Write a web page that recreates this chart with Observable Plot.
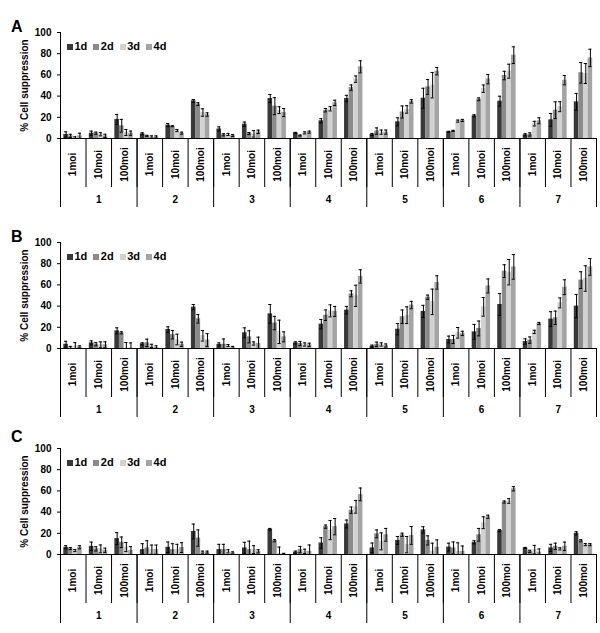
<!DOCTYPE html>
<html><head><meta charset="utf-8">
<script src="https://cdn.jsdelivr.net/npm/d3@7"></script>
<script src="https://cdn.jsdelivr.net/npm/@observablehq/plot@0.6"></script>
<style>
body{margin:0;background:#fff;font-family:"Liberation Sans",Arial,sans-serif;}
#fig{position:relative;width:600px;height:633px;overflow:hidden;background:#fff}
.panel{position:absolute;left:0;width:600px}
.letter{position:absolute;left:11px;font-size:16px;font-weight:bold;line-height:16px}
.legend{position:absolute;left:67px;top:41px;display:flex;font-size:11px;font-weight:bold;line-height:11px;align-items:center}
.legend .item{display:flex;align-items:center;margin-right:6px}
.legend i{display:inline-block;width:6px;height:6px;margin-right:1.5px}
</style>
</head><body><div id="fig"></div>
<script>
// ---- data ----
const groups = ["1","2","3","4","5","6","7"];
const mois = ["1moi","10moi","100moi"];
const days = ["1d","2d","3d","4d"];
const yTicks = [0,20,40,60,80,100];
const panelLetters = ["A","B","C"];
const dayColors = ["#383838","#8a8a8a","#d2d2d2","#a4a4a4"];

// Panel A: mean % suppression per slot (group x moi), one array per day
const a1d = [3.8,5,18, 4.4,12.6,35.5, 9,13.5,37.7, 5.3,16.7,37.7, 3.8,15.7,38, 6.3,21.4,35.2, 3.5,17.6,34.6];
const a2d = [2.5,5,12, 2.5,11.6,32.4, 3.5,4.7,30.5, 2.8,26.7,48, 7,25,48.7, 7.2,37,59.4, 3.8,26.7,62];
const a3d = [0.6,4,5.7, 1.5,7.5,24.5, 3.8,4.4,26.7, 5.3,28,56, 6,27.4,50.3, 16.4,47,63.5, 14,30,61.3];
const a4d = [2.5,2.5,5, 1.5,5,22.6, 2.8,6.3,24.5, 6,33.6,67.6, 6,35,63.5, 17,56,78.6, 16.7,55,76];
const aErr1d = [2.5,2,4.7, 1,1.5,1.3, 2,2,3.8, 0.5,2,3, 1,3.8,9.4, 0.5,1,4.7, 1,6,7.9];
const aErr2d = [1.5,1,6, 0.5,0.5,1.3, 1,1,8, 0.5,1.6,2.5, 3,5.7,7, 0.5,1.3,4, 1.5,7.9,9.7];
const aErr3d = [1,1.5,2.8, 1,1,3.5, 1,3,3.2, 1,2,3, 2,3.5,12, 1,3.5,6.6, 2.2,4.7,9.4];
const aErr4d = [2.5,1.5,2, 1,1,1.6, 1,1.6,3.8, 1,2.5,5.7, 2,1.6,3.5, 1,4.4,7.9, 2.8,4.4,8.2];

// Panel B
const b1d = [4,5.3,16.7, 4.4,18,39, 3.8,14.8,32.7, 5.3,23,36.2, 2.2,18.2,35, 8.5,15.7,41.5, 6.6,27.7,40];
const b2d = [0.5,4,14.8, 5.3,13,28, 4,11,24, 4.7,31.4,51.6, 4,30,48.4, 8.5,18.9,73, 7.9,29,64.5];
const b3d = [2.5,3.5,0.6, 2.5,8.5,12, 2.8,4.7,15.7, 3.8,35.5,49.7, 3.8,31.4,44, 14.8,39.3,72, 15.7,43,66];
const b4d = [1.5,3.5,0.3, 1,4,8, 1,4.7,11, 3.5,35,68, 2.8,41,62.3, 14.2,59,77, 23.6,57.8,77];
const bErr1d = [2.8,1.9,2.8, 1,2.5,2.5, 1.5,4.7,8.8, 1,4.4,3.5, 1,5.3,5.7, 3.2,7,10.4, 2.5,7,11];
const bErr2d = [1.5,1.5,1, 3.5,4,4, 5,5.7,6.3, 2,5,2.8, 2,6.3,2, 3.8,7,6, 3,6.3,7.9];
const bErr3d = [3,2.8,5, 1.5,5,5, 1,1.5,11, 1.5,5.7,10, 1.5,7.9,12, 5,8.8,12, 1.5,4.7,12];
const bErr4d = [1,2.8,5, 1.5,2,6, 1,6,4.7, 1.5,4.7,6.3, 1.5,3.5,6.3, 2,6.6,11.6, 1,7,7.9];

// Panel C
const c1d = [6.8,7.7,15, 4.6,6.8,21.7, 4.6,6.2,23.8, 2.2,10.8,28.8, 6.2,13.3,23.2, 7,11.5,22.6, 6.2,6.2,20];
const c2d = [5.6,5.3,11.5, 6.2,4.6,15.5, 4.6,4.6,13, 4.6,26.3,41.8, 19.5,18.6,13.3, 6.2,18.6,49.5, 3,7.7,13];
const c3d = [3.7,5.3,7, 4.6,4.6,2.2, 3,4.6,1, 3,23,45, 12.4,9.3,3, 3,30,50.5, 4.6,5.3,9.3];
const c4d = [6.8,4,3.7, 4.6,6.5,2.2, 1.5,3,0.6, 3,26.3,56.7, 18.6,18,6.8, 3,35.6,62, 2.2,7.7,9.3];
const cErr1d = [1.5,4,5.6, 5.6,5,7, 5,5.3,0.8, 1,5,3.7, 4.6,3.7,3, 3.7,1.5,1, 0.5,3.4,1.5];
const cErr2d = [1,2,5, 6.8,5.6,7.7, 5,8,1, 3,1.5,3, 3.7,1.5,4.3, 5.6,6,1, 1,3,1];
const cErr3d = [1,3.7,4.3, 4.3,5,1, 1.5,3.7,6, 2,9,6, 8,7.7,7.7, 8,5.6,2.2, 4,1,1];
const cErr4d = [1.5,2,3.7, 4.3,4.6,1, 1,1.5,0.5, 6,7.7,6, 6,8.4,7, 5,1.5,2, 3,4,1];

// ---- layout ----
const W = 600, H = 217, ML = 60, MR = 4, MT = 32, MB = 79;
const panelTops = [0, 210, 416];
const letterTops = [19, 19, 13];
const slots = groups.flatMap(g => mois.map(m => g + "|" + m));
const bw = (W - ML - MR) / slots.length;
const pad = 3.3, barW = 4.6;

function makePanel(means, errs) {
  const rows = days.flatMap((d, k) => slots.map((s, i) => ({slot: s, day: d, k, v: means[k][i], e: errs[k][i]})));
  const marks = [];
  days.forEach((d, k) => {
    marks.push(Plot.barY(rows.filter(r => r.k === k), {
      x: "slot", y: "v", fill: dayColors[k],
      insetLeft: pad + k * barW, insetRight: bw - pad - (k + 1) * barW
    }));
  });
  days.forEach((d, k) => {
    const sub = rows.filter(r => r.k === k);
    const cx = -bw / 2 + pad + (k + 0.5) * barW;
    const il = pad + k * barW + 0.7, ir = bw - pad - (k + 1) * barW + 0.7;
    marks.push(Plot.ruleX(sub, {x: "slot", y1: r => Math.max(0, r.v - r.e), y2: r => r.v + r.e, dx: cx, stroke: "#000"}));
    marks.push(Plot.tickY(sub, {x: "slot", y: r => r.v + r.e, insetLeft: il, insetRight: ir, stroke: "#000"}));
    marks.push(Plot.tickY(sub.filter(r => r.v - r.e > 0), {x: "slot", y: r => r.v - r.e, insetLeft: il, insetRight: ir, stroke: "#000"}));
  });
  const firstSlots = groups.map(g => g + "|" + mois[0]);
  const midSlots = groups.map(g => g + "|" + mois[1]);
  marks.push(
    Plot.ruleY([0], {stroke: "#000"}),
    Plot.ruleX([slots[0]], {dx: -bw / 2, stroke: "#000"}),
    Plot.axisY({ticks: yTicks, tickSize: 3, tickPadding: 6, label: "% Cell suppression", labelAnchor: "center", labelArrow: "none", labelOffset: 40}),
    Plot.axisX({ticks: slots, tickSize: 49, tickFormat: () => "", dx: -bw / 2, label: null}),
    Plot.axisX({ticks: firstSlots, tickSize: 69, tickFormat: () => "", dx: -bw / 2, label: null}),
    Plot.axisX({ticks: [slots[slots.length - 1]], tickSize: 69, tickFormat: () => "", dx: bw / 2, label: null}),
    Plot.axisX({ticks: slots, tickSize: 0, tickPadding: 26, tickRotate: -90, textAnchor: "middle", lineAnchor: "middle", tickFormat: s => s.split("|")[1], label: null}),
    Plot.axisX({ticks: midSlots, tickSize: 0, tickPadding: 61, lineAnchor: "middle", tickFormat: s => s.split("|")[0], label: null})
  );
  return Plot.plot({
    width: W, height: H, marginLeft: ML, marginRight: MR, marginTop: MT, marginBottom: MB,
    style: {fontFamily: "'Liberation Sans', Arial, sans-serif", fontSize: "10px", fontWeight: "bold", color: "#000", background: "transparent"},
    x: {domain: slots, padding: 0, round: false},
    y: {domain: [0, 100], nice: false},
    marks
  });
}

const panels = [
  [[a1d, a2d, a3d, a4d], [aErr1d, aErr2d, aErr3d, aErr4d]],
  [[b1d, b2d, b3d, b4d], [bErr1d, bErr2d, bErr3d, bErr4d]],
  [[c1d, c2d, c3d, c4d], [cErr1d, cErr2d, cErr3d, cErr4d]]
];
const fig = document.getElementById("fig");
panels.forEach(([m, e], p) => {
  const div = document.createElement("div");
  div.className = "panel";
  div.style.top = panelTops[p] + "px";
  div.style.height = H + "px";
  div.appendChild(makePanel(m, e));
  const letter = document.createElement("div");
  letter.className = "letter";
  letter.style.top = letterTops[p] + "px";
  letter.textContent = panelLetters[p];
  div.appendChild(letter);
  const leg = document.createElement("div");
  leg.className = "legend";
  days.forEach((d, k) => {
    const it = document.createElement("span");
    it.className = "item";
    const sw = document.createElement("i");
    sw.style.background = dayColors[k];
    it.appendChild(sw);
    it.appendChild(document.createTextNode(d));
    leg.appendChild(it);
  });
  div.appendChild(leg);
  fig.appendChild(div);
});
</script>
</body></html>
